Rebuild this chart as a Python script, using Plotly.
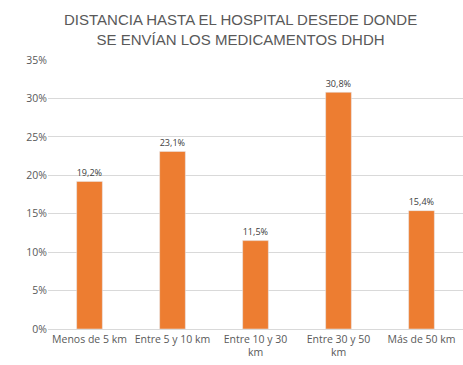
import plotly.graph_objects as go

categories = ["Menos de 5 km", "Entre 5 y 10 km", "Entre 10 y 30<br>km", "Entre 30 y 50<br>km", "Más de 50 km"]
values = [19.2, 23.1, 11.5, 30.8, 15.4]
labels = ["19,2%", "23,1%", "11,5%", "30,8%", "15,4%"]
tick_vals = [0, 5, 10, 15, 20, 25, 30, 35]
tick_text = ["0%", "5%", "10%", "15%", "20%", "25%", "30%", "35%"]
title_text = "DISTANCIA HASTA EL HOSPITAL DESEDE DONDE<br>SE ENVÍAN LOS MEDICAMENTOS DHDH"

fig = go.Figure(go.Bar(
    x=categories, y=values, text=labels, textposition="outside",
    textfont=dict(size=10.5, color="#404040", family="Open Sans"),
    marker=dict(color="#ED7D31"), cliponaxis=False,
))

fig.update_layout(
    width=463, height=365,
    margin=dict(l=48, r=0, t=60, b=36, autoexpand=False),
    paper_bgcolor="white", plot_bgcolor="white",
    bargap=0.69,
    showlegend=False,
    font=dict(family="Open Sans", size=10.5, color="#595959"),
    annotations=[dict(text=title_text, xref="paper", yref="paper",
                      x=0.463, y=1.19, xanchor="center", yanchor="top",
                      showarrow=False, align="center",
                      font=dict(size=15, color="#595959", family="Liberation Sans"))],
)
fig.update_yaxes(range=[0, 35], tickvals=tick_vals, ticktext=tick_text,
                 showgrid=True, gridcolor="#D9D9D9", gridwidth=1, zeroline=False,
                 showline=False, ticks="", ticklen=0, automargin=False,
                 tickfont=dict(size=10.5, color="#595959"))
fig.update_xaxes(showline=True, linecolor="#D9D9D9", linewidth=1, ticks="", automargin=False,
                 tickfont=dict(size=10.5, color="#595959"), tickangle=0)

fig.write_html("out.html", config={"displayModeBar": False},
               post_script="document.body.style.margin='0';")
